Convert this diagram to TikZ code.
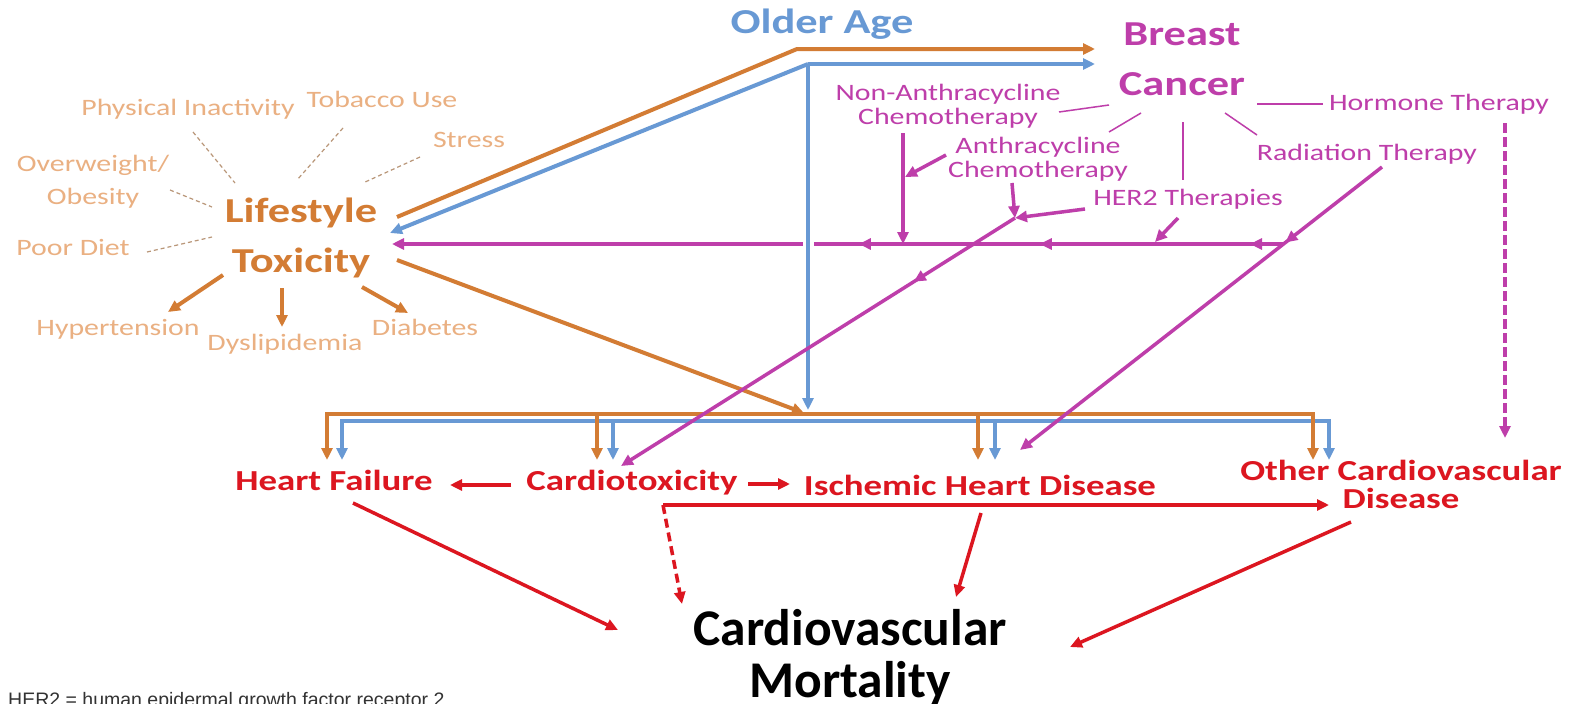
\documentclass[tikz,border=0pt]{standalone}
\usepackage{fontspec}
\usetikzlibrary{arrows.meta,decorations.markings}
\newfontfamily\wfont{Carlito}[FakeStretch=1.27]
\newfontfamily\cfont{Carlito}
\newfontfamily\nfont{Liberation Sans}
\definecolor{lsorange}{RGB}{211,124,52}
\definecolor{lslight}{RGB}{234,176,130}
\definecolor{lsdash}{RGB}{185,150,120}
\definecolor{agblue}{RGB}{104,153,212}
\definecolor{bcmagenta}{RGB}{190,62,170}
\definecolor{cvred}{RGB}{220,22,32}
\tikzset{
  lbl/.style={inner sep=0pt, anchor=base, align=center},
  riskf/.style={lbl, text=lslight, font=\wfont\fontsize{23.5}{33}\selectfont},
  therf/.style={lbl, text=bcmagenta, font=\wfont\fontsize{23.5}{24}\selectfont},
  headf/.style={lbl, font=\wfont\bfseries\fontsize{35}{50}\selectfont},
  outf/.style={lbl, text=cvred, font=\wfont\bfseries\fontsize{29}{28}\selectfont},
  arr/.style={-{Triangle[length=12pt,width=11pt]}},
  oline/.style={lsorange, line width=4pt, arr},
  bline/.style={agblue, line width=4pt, arr},
  mline/.style={bcmagenta, line width=3.5pt, arr},
  rline/.style={cvred, line width=3.5pt, arr},
  twig/.style={bcmagenta, line width=1.5pt},
  spoke/.style={lsdash, line width=1.2pt, dash pattern=on 4pt off 3pt},
  midarr/.style={postaction={decorate, decoration={markings,
      mark=at position #1 with {\arrow{Triangle[length=12pt,width=11pt]}}}}}
}
\begin{document}
\begin{tikzpicture}[x=1pt, y=-1pt]
\fill[white] (0,0) rectangle (1583,704);
\useasboundingbox (0,0) rectangle (1583,704);

% labels (base = last line)
\node[riskf] (phys) at (188,115) {Physical Inactivity};
\node[riskf] (tob) at (382,107) {Tobacco Use};
\node[riskf] (stress) at (469,147) {Stress};
\node[riskf] (overw) at (93,204) {Overweight/\\Obesity};
\node[riskf] (diet) at (73,255) {Poor Diet};
\node[riskf] (hyper) at (118,335) {Hypertension};
\node[riskf] (dysl) at (285,350) {Dyslipidemia};
\node[riskf] (diab) at (425,335) {Diabetes};
\node[headf, text=lsorange] (life) at (301,272) {Lifestyle\\Toxicity};
\node[headf, text=agblue] (older) at (822,34) {Older Age};
\node[headf, text=bcmagenta] (bc) at (1182,95) {Breast\\Cancer};
\node[therf] (nonan) at (948,124) {Non-Anthracycline\\Chemotherapy};
\node[therf] (anth) at (1038,177) {Anthracycline\\Chemotherapy};
\node[therf] (her2) at (1188,205) {HER2 Therapies};
\node[therf] (rad) at (1367,160) {Radiation Therapy};
\node[therf] (horm) at (1439,110) {Hormone Therapy};
\node[outf] (hf) at (334,490) {Heart Failure};
\node[outf] (ct) at (632,490) {Cardiotoxicity};
\node[outf] (ihd) at (980,495) {Ischemic Heart Disease};
\node[outf] (ocd) at (1401,508) {Other Cardiovascular\\Disease};
\node[lbl, font=\cfont\bfseries\fontsize{51.5}{52}\selectfont] (cvm) at (850,697) {Cardiovascular\\Mortality};
\node[lbl, anchor=base west, text=black!80, font=\nfont\fontsize{19.5}{22}\selectfont] (note) at (8,706) {HER2 = human epidermal growth factor receptor 2};

\coordinate (hub) at (808,414);
\coordinate (bhub) at (808,421);
\coordinate (rx) at (1283,244);
\coordinate (jn) at (1015,218);

% lifestyle risk factors
\draw[spoke] ([shift={(5,17)}]phys.base) -- ([shift={(-66,-89)}]life.base);
\draw[spoke] ([shift={(-39,21)}]tob.base) -- ([shift={(-4,-92)}]life.base);
\draw[spoke] ([shift={(-49,10)}]stress.base) -- ([shift={(62,-89)}]life.base);
\draw[spoke] ([shift={(77,-14)}]overw.base) -- ([shift={(-89,-65)}]life.base);
\draw[spoke] ([shift={(74,-3)}]diet.base) -- ([shift={(-89,-35)}]life.base);
\draw[oline] ([shift={(-78,3)}]life.base) -- ([shift={(50,-23)}]hyper.base);
\draw[oline] ([shift={(-19,16)}]life.base) -- ([shift={(-3,-23)}]dysl.base);
\draw[oline] ([shift={(61,15)}]life.base) -- ([shift={(-17,-22)}]diab.base);

% treatments back to lifestyle
\draw[mline, postaction={decorate}, decoration={markings,
    mark=at position 0.037 with {\arrow{Triangle[length=12pt,width=11pt]}},
    mark=at position 0.273 with {\arrow{Triangle[length=12pt,width=11pt]}},
    mark=at position 0.476 with {\arrow{Triangle[length=12pt,width=11pt]}}}]
  (rx) -- ([shift={(91,-28)}]life.base);

% older age
\draw[bline, preaction={draw=white, line width=11pt, -}] ([shift={(-14,30)}]older.base) -- ([shift={(0,-4)}]hub);
\draw[bline] ([shift={(-14,30)}]older.base) -- ([shift={(89,-39)}]life.base);
\draw[bline] ([shift={(-14,30)}]older.base) -- ([shift={(-87,-31)}]bc.base);
\draw[oline] ([shift={(96,-55)}]life.base) -- ([shift={(-25,15)}]older.base) -- ([shift={(-87,-46)}]bc.base);
\draw[oline] ([shift={(96,-12)}]life.base) -- ([shift={(-4,-1)}]hub);

% bus to outcomes
\draw[bline] (bhub) -| ([shift={(8,-30)}]hf.base);
\draw[bline] (bhub) -| ([shift={(-72,-48)}]ocd.base);
\draw[bline] ([shift={(-19,-69)}]ct.base) -- ([shift={(-19,-30)}]ct.base);
\draw[bline] ([shift={(15,-74)}]ihd.base) -- ([shift={(15,-35)}]ihd.base);
\draw[oline] (hub) -| ([shift={(-7,-30)}]hf.base);
\draw[oline] (hub) -| ([shift={(-88,-48)}]ocd.base);
\draw[oline] ([shift={(-35,-76)}]ct.base) -- ([shift={(-35,-30)}]ct.base);
\draw[oline] ([shift={(-2,-81)}]ihd.base) -- ([shift={(-2,-35)}]ihd.base);

% breast cancer therapies
\draw[twig] ([shift={(-73,10)}]bc.base) -- ([shift={(111,-12)}]nonan.base);
\draw[twig] ([shift={(-41,18)}]bc.base) -- ([shift={(71,-45)}]anth.base);
\draw[twig] ([shift={(1,27)}]bc.base) -- ([shift={(-5,-25)}]her2.base);
\draw[twig] ([shift={(43,18)}]bc.base) -- ([shift={(-110,-25)}]rad.base);
\draw[twig] ([shift={(75,9)}]bc.base) -- ([shift={(-116,-6)}]horm.base);
\draw[mline] ([shift={(-45,9)}]nonan.base) -- ([shift={(-45,120)}]nonan.base);
\draw[mline] ([shift={(-92,-22)}]anth.base) -- ([shift={(-43,53)}]nonan.base);
\draw[mline] ([shift={(-26,6)}]anth.base) -- (jn);
\draw[mline] ([shift={(-103,4)}]her2.base) -- (jn);
\draw[mline] ([shift={(-10,13)}]her2.base) -- ([shift={(-33,37)}]her2.base);
\draw[mline, midarr=0.257] (jn) -- ([shift={(-11,-24)}]ct.base);
\draw[mline, midarr=0.267] ([shift={(15,7)}]rad.base) -- ([shift={(40,-45)}]ihd.base);
\draw[mline, dash pattern=on 10pt off 4pt] ([shift={(66,13)}]horm.base) -- ([shift={(104,-70)}]ocd.base);

% outcomes to mortality
\draw[rline] ([shift={(-121,-5)}]ct.base) -- ([shift={(116,-5)}]hf.base);
\draw[rline] ([shift={(116,-6)}]ct.base) -- ([shift={(-190,-11)}]ihd.base);
\draw[rline] ([shift={(31,15)}]ct.base) -- ([shift={(-72,-3)}]ocd.base);
\draw[rline, dash pattern=on 9pt off 5pt] ([shift={(31,15)}]ct.base) -- ([shift={(-168,-93)}]cvm.base);
\draw[rline] ([shift={(19,13)}]hf.base) -- ([shift={(-232,-67)}]cvm.base);
\draw[rline] ([shift={(1,18)}]ihd.base) -- ([shift={(106,-100)}]cvm.base);
\draw[rline] ([shift={(-50,14)}]ocd.base) -- ([shift={(220,-50)}]cvm.base);
\end{tikzpicture}
\end{document}
